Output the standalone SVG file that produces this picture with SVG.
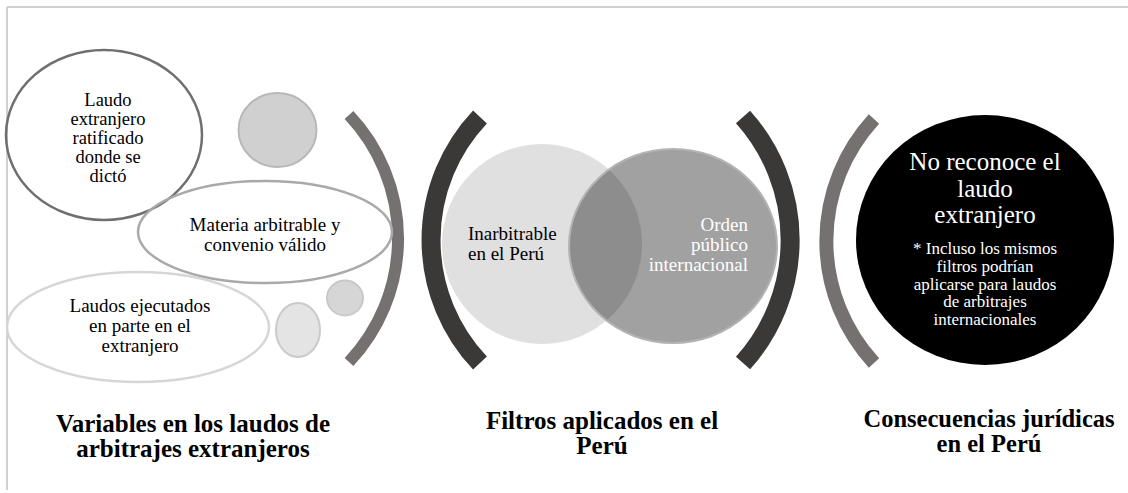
<svg xmlns="http://www.w3.org/2000/svg" width="1128" height="493" viewBox="0 0 1128 493">
<style>
.arcG{fill:none;stroke:#767171;stroke-linecap:butt;}
.arcD{fill:none;stroke:#3b3838;stroke-width:19;stroke-linecap:butt;}
</style>
<rect width="1128" height="493" fill="#fff"/>
<g id="frame">
<line x1="7" y1="7" x2="1128" y2="7" stroke="#d0d0d0" stroke-width="2"/>
<line x1="7" y1="7" x2="7" y2="490" stroke="#d0d0d0" stroke-width="2"/>
</g>
<g id="connectors">
<path class="arcG" stroke-width="12" d="M349,115 A180,180 0 0 1 349,362"/>
<path class="arcD" d="M480,117 A179,179 0 0 0 480,363"/>
<path class="arcD" d="M743,117 A184,184 0 0 1 743,363"/>
<path class="arcG" stroke-width="14" d="M874,119 A180,180 0 0 0 874,363"/>
</g>
<g font-family="Liberation Serif, Times New Roman, serif">
<g id="node-laudo-ratificado">
<ellipse cx="104" cy="135" rx="98" ry="85" fill="none" stroke="#6f6f6f" stroke-width="2.5"/>
<text font-size="18.5" text-anchor="middle" fill="#000"><tspan x="108" y="106">Laudo</tspan><tspan x="108" y="125">extranjero</tspan><tspan x="108" y="144">ratificado</tspan><tspan x="108" y="163">donde se</tspan><tspan x="108" y="182">dictó</tspan></text>
</g>
<g id="node-dot-1">
<ellipse cx="277.5" cy="130" rx="39" ry="37" fill="#d0d0d0" stroke="#b8b8b8" stroke-width="2"/>
</g>
<g id="node-materia">
<ellipse cx="265" cy="232" rx="127" ry="51" fill="none" stroke="#a9a9a9" stroke-width="2.5"/>
<text font-size="19" text-anchor="middle" fill="#000"><tspan x="265" y="231">Materia arbitrable y</tspan><tspan x="265" y="251">convenio válido</tspan></text>
</g>
<g id="node-dot-2">
<ellipse cx="345" cy="298" rx="18" ry="17.5" fill="#d6d6d6" stroke="#c8c8c8" stroke-width="2"/>
</g>
<g id="node-laudos-ejecutados">
<ellipse cx="138" cy="327" rx="131" ry="55" fill="none" stroke="#d6d6d6" stroke-width="2.5"/>
<text font-size="19" text-anchor="middle" fill="#000"><tspan x="140" y="312">Laudos ejecutados</tspan><tspan x="140" y="332">en parte en el</tspan><tspan x="140" y="352">extranjero</tspan></text>
</g>
<g id="node-dot-3">
<ellipse cx="298" cy="330" rx="22" ry="27" fill="#e4e4e4" stroke="#cacaca" stroke-width="2"/>
</g>
<g id="node-inarbitrable">
<circle cx="542" cy="244" r="100" fill="#e0e0e0"/>
<text font-size="19" fill="#000"><tspan x="468" y="240">Inarbitrable</tspan><tspan x="468" y="260">en el Perú</tspan></text>
</g>
<g id="node-orden-publico">
<ellipse cx="673" cy="246" rx="104" ry="97" fill="#000" fill-opacity="0.37" stroke="#b3b3b3" stroke-width="2"/>
<text font-size="19" fill="#fff" text-anchor="end"><tspan x="748" y="231">Orden</tspan><tspan x="748" y="251">público</tspan><tspan x="748" y="271">internacional</tspan></text>
</g>
<g id="node-no-reconoce">
<ellipse cx="985" cy="240" rx="129" ry="125" fill="#000"/>
<text font-size="25" fill="#fff" text-anchor="middle"><tspan x="985" y="170">No reconoce el</tspan><tspan x="985" y="197">laudo</tspan><tspan x="985" y="223">extranjero</tspan></text>
<text font-size="17" fill="#fff" text-anchor="middle"><tspan x="985" y="254">* Incluso los mismos</tspan><tspan x="985" y="272">filtros podrían</tspan><tspan x="985" y="290">aplicarse para laudos</tspan><tspan x="985" y="307">de arbitrajes</tspan><tspan x="985" y="325">internacionales</tspan></text>
</g>
<g id="label-variables" font-weight="bold" font-size="25" text-anchor="middle" fill="#000">
<text><tspan x="193" y="432">Variables en los laudos de</tspan><tspan x="193" y="457">arbitrajes extranjeros</tspan></text>
</g>
<g id="label-filtros" font-weight="bold" font-size="25" text-anchor="middle" fill="#000">
<text><tspan x="602" y="429">Filtros aplicados en el</tspan><tspan x="602" y="454">Perú</tspan></text>
</g>
<g id="label-consecuencias" font-weight="bold" font-size="24.5" text-anchor="middle" fill="#000">
<text><tspan x="989" y="427">Consecuencias jurídicas</tspan><tspan x="989" y="452">en el Perú</tspan></text>
</g>
</g>
</svg>
